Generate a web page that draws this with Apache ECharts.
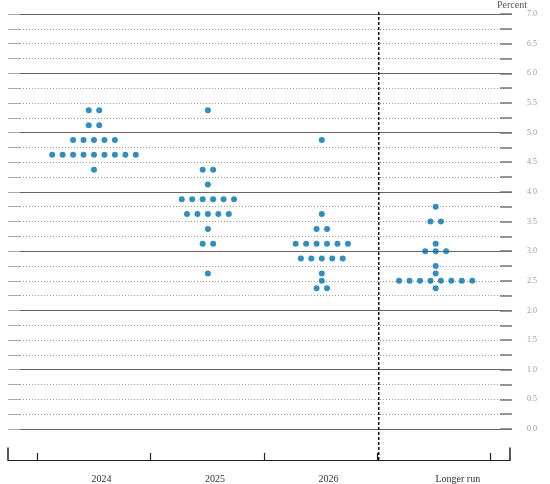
<!DOCTYPE html>
<html><head><meta charset="utf-8">
<script src="https://cdn.jsdelivr.net/npm/echarts@6/dist/echarts.min.js"></script>
<style>html,body{margin:0;padding:0;background:#fff}#c{width:550px;height:484px}</style>
</head><body><div id="c"></div>
<script>
const categories = ['2024', '2025', '2026', 'Longer run'];
const dots2024 = [5.375, 5.375, 5.125, 5.125, 4.875, 4.875, 4.875, 4.875, 4.875,
  4.625, 4.625, 4.625, 4.625, 4.625, 4.625, 4.625, 4.625, 4.625, 4.375];
const dots2025 = [5.375, 4.375, 4.375, 4.125, 3.875, 3.875, 3.875, 3.875, 3.875, 3.875,
  3.625, 3.625, 3.625, 3.625, 3.625, 3.375, 3.125, 3.125, 2.625];
const dots2026 = [4.875, 3.625, 3.375, 3.375, 3.125, 3.125, 3.125, 3.125, 3.125, 3.125,
  2.875, 2.875, 2.875, 2.875, 2.875, 2.625, 2.5, 2.375, 2.375];
const dotsLonger = [3.75, 3.5, 3.5, 3.125, 3.0, 3.0, 3.0, 2.75, 2.625,
  2.5, 2.5, 2.5, 2.5, 2.5, 2.5, 2.5, 2.5, 2.375];
const yTicks = ['0.0', '0.5', '1.0', '1.5', '2.0', '2.5', '3.0', '3.5', '4.0', '4.5', '5.0', '5.5', '6.0', '6.5', '7.0'];

const allDots = [dots2024, dots2025, dots2026, dotsLonger];
const STEP = 0.0918;
const points = [];
allDots.forEach((vals, ci) => {
  const counts = new Map();
  vals.forEach(v => counts.set(v, (counts.get(v) || 0) + 1));
  counts.forEach((n, v) => {
    for (let j = 0; j < n; j++) points.push([ci + (j - (n - 1) / 2) * STEP, v]);
  });
});

const XMIN = -0.755, XMAX = 3.67;
const serif = 'Liberation Serif';
const chart = echarts.init(document.getElementById('c'), null, {renderer: 'canvas'});
chart.setOption({
  animation: false,
  backgroundColor: '#fff',
  grid: [
    {left: 8, right: 38, top: 12, bottom: 55},
    {left: 8, right: 38, top: 12, bottom: 24},
    {left: 8, right: 40, top: 448, bottom: 24}
  ],
  xAxis: [
    {gridIndex: 0, type: 'value', min: XMIN, max: XMAX, show: false},
    {gridIndex: 1, type: 'value', min: XMIN, max: XMAX, show: false},
    {gridIndex: 2, type: 'value', min: XMIN, max: XMAX, position: 'bottom',
      axisLine: {show: true, onZero: false, lineStyle: {color: '#222', width: 1.2}},
      axisTick: {show: true, inside: true, length: 7, lineStyle: {color: '#222', width: 1.2},
        customValues: [-0.5, 0.5, 1.5, 2.5, 3.5]},
      axisLabel: {show: true, margin: 14, fontFamily: serif, fontSize: 10, color: '#333',
        customValues: [0.07, 1.07, 2.07, 3.21],
        formatter: v => categories[Math.floor(v + 0.5)] || ''},
      splitLine: {show: false}}
  ],
  yAxis: [
    {gridIndex: 0, type: 'value', position: 'right', min: 0, max: 7, interval: 0.25,
      name: 'Percent', nameLocation: 'end', nameGap: 4,
      nameTextStyle: {fontFamily: serif, fontSize: 10, color: '#555'},
      axisLine: {show: false, onZero: false},
      axisTick: {show: true, inside: true, length: 12, lineStyle: {color: '#777', width: 1.5}},
      axisLabel: {show: true, margin: 15, fontFamily: serif, fontSize: 8, color: '#999',
        formatter: v => {
          const k = Math.round(v * 2);
          return Math.abs(v * 2 - k) < 1e-6 ? yTicks[k] : '';
        }},
      splitLine: {show: true, lineStyle: {color: '#999', width: 1, type: [1, 2]}}},
    {gridIndex: 0, type: 'value', position: 'right', min: 0, max: 7, interval: 1,
      axisLine: {show: false, onZero: false}, axisTick: {show: false}, axisLabel: {show: false},
      splitLine: {show: true, lineStyle: {color: '#666', width: 1.2}}},
    {gridIndex: 1, type: 'value', min: 0, max: 1, show: false},
    {gridIndex: 2, type: 'value', min: 0, max: 1, position: 'left',
      axisLine: {show: true, onZero: false, lineStyle: {color: '#222', width: 1.5}},
      axisTick: {show: false}, axisLabel: {show: false}, splitLine: {show: false}},
    {gridIndex: 2, type: 'value', min: 0, max: 1, position: 'right',
      axisLine: {show: true, onZero: false, lineStyle: {color: '#222', width: 1.5}},
      axisTick: {show: false}, axisLabel: {show: false}, splitLine: {show: false}},
    {gridIndex: 0, type: 'value', position: 'left', min: 0, max: 7, interval: 0.25,
      axisLine: {show: false, onZero: false},
      axisTick: {show: true, inside: true, length: 12, lineStyle: {color: '#aaa', width: 1}},
      axisLabel: {show: false}, splitLine: {show: false}}
  ],
  series: [
    {type: 'scatter', xAxisIndex: 0, yAxisIndex: 0, data: points,
      symbol: 'circle', symbolSize: 6, itemStyle: {color: '#0072b0'}, z: 5},
    {type: 'line', xAxisIndex: 1, yAxisIndex: 2, data: [[2.5, 0], [2.5, 1]],
      symbol: 'none', lineStyle: {color: '#111', width: 1.5, type: [3, 2]}, z: 4}
  ]
});
</script></body></html>
